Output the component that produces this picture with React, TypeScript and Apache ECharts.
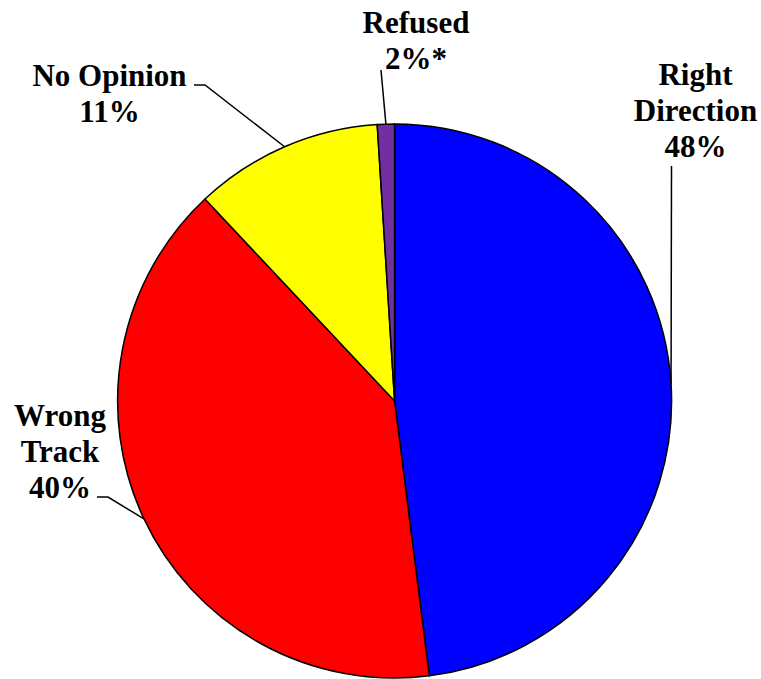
import React, { useEffect, useRef } from "react";
import * as echarts from "echarts";

const categories = ["Right Direction", "Wrong Track", "No Opinion", "Refused"];
const values = [48, 40, 11, 1];
const labelNames = ["Right\nDirection", "Wrong\nTrack", "No Opinion", "Refused"];
const pctLabels = ["48%", "40%", "11%", "2%*"];
const colors = ["#0000FF", "#FF0000", "#FFFF00", "#7030A0"];

// label layout: text center x, text top y, leader bend points (after edge point)
const LABEL_LAYOUT = [
  { x: 695.5, y: 56, bends: [[671.5, 166]] },
  { x: 60, y: 397, bends: [[108, 497], [97, 497]] },
  { x: 109.5, y: 57, bends: [[205, 85], [194, 85]] },
  { x: 416, y: 4, bends: [[381, 70]] },
];

export default function App() {
  const ref = useRef<HTMLDivElement>(null);
  useEffect(() => {
    document.body.style.margin = "0";
    const chart = echarts.init(ref.current!, null, { renderer: "svg" });
    chart.setOption({
      animation: false,
      backgroundColor: "#ffffff",
      series: [
        {
          type: "pie",
          center: [394.6, 401],
          radius: 277,
          startAngle: 90,
          clockwise: true,
          avoidLabelOverlap: false,
          data: categories.map((name, i) => ({
            name,
            value: values[i],
            itemStyle: { color: colors[i] },
          })),
          itemStyle: { borderColor: "#000000", borderWidth: 1.5 },
          label: {
            show: true,
            position: "outside",
            formatter: (p: any) => labelNames[p.dataIndex] + "\n" + pctLabels[p.dataIndex],
            fontFamily: "Times New Roman, serif",
            fontWeight: "bold",
            fontSize: 31,
            lineHeight: 36,
            color: "#000000",
            align: "center",
          },
          labelLine: {
            show: true,
            lineStyle: { color: "#000000", width: 1.5 },
          },
          labelLayout: (params: any) => {
            const L = LABEL_LAYOUT[params.dataIndex];
            const start = params.labelLinePoints && params.labelLinePoints[0];
            const pts: number[][] = [start ? [start[0], start[1]] : [L.bends[0][0], L.bends[0][1]]];
            L.bends.forEach((b) => pts.push([b[0], b[1]]));
            while (pts.length < 3) pts.push(pts[pts.length - 1].slice());
            return {
              x: L.x,
              y: L.y,
              align: "center",
              verticalAlign: "top",
              labelLinePoints: pts,
            };
          },
        },
      ],
    });
    return () => chart.dispose();
  }, []);
  return <div ref={ref} style={{ width: 761, height: 679 }} />;
}
